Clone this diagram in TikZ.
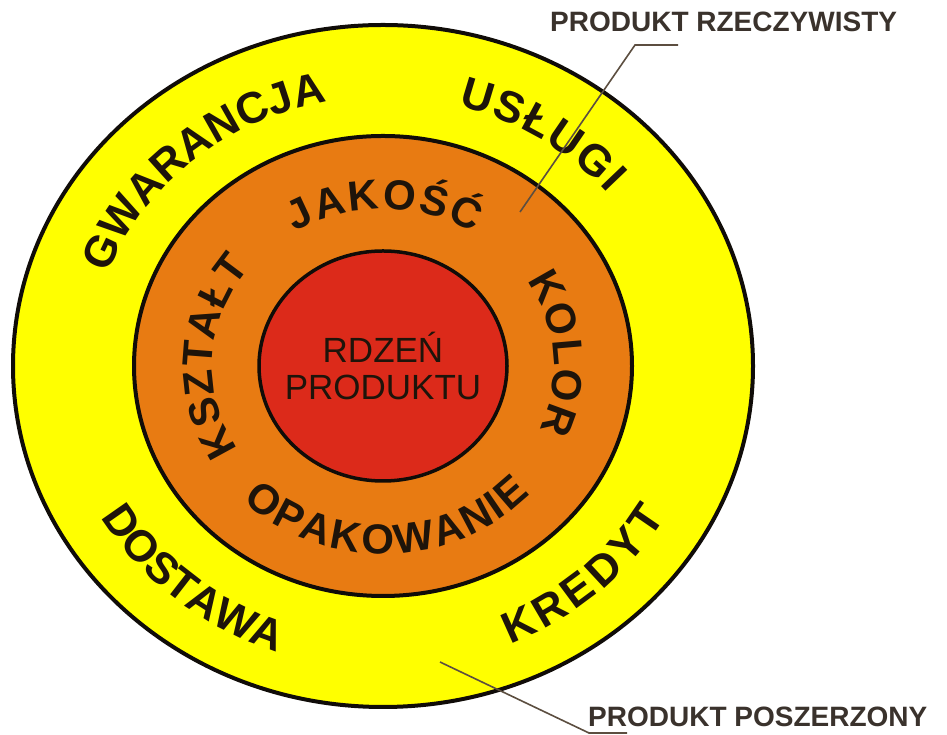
\documentclass[tikz,border=0pt]{standalone}
\usepackage{fontspec}
\setmainfont{Liberation Sans}
\usetikzlibrary{decorations.text}

\newcommand\outerringfont{\bfseries\fontsize{44}{44}\selectfont}
\newcommand\innerringfont{\bfseries\fontsize{42}{42}\selectfont}

\begin{document}
\begin{tikzpicture}[x=1pt,y=1pt,
  ring/.style={draw=ringline, line width=4},
  ringtext/.style={decorate, decoration={text along path, text align=fit to path, text color=inkdark}},
  leader/.style={draw=leadgray, line width=1.6},
  tag/.style={anchor=west, text=taggray, font=\bfseries\fontsize{28}{28}\selectfont, inner sep=0}]

\definecolor{ringyellow}{RGB}{255, 255, 0}
\definecolor{ringorange}{RGB}{232, 123, 18}
\definecolor{corered}{RGB}{220, 42, 26}
\definecolor{ringline}{RGB}{16, 12, 8}
\definecolor{inkdark}{RGB}{30, 20, 10}
\definecolor{leadgray}{RGB}{92, 78, 64}
\definecolor{taggray}{RGB}{58, 50, 44}

% Canvas
\useasboundingbox (0,0) rectangle (947,735);
\coordinate (C) at (383,369);

\begin{scope}[shift={(C)}]
% OUTER RING (produkt poszerzony)
\filldraw[ring, fill=ringyellow] (0,0) ellipse [x radius=370, y radius=341];
% MIDDLE RING (produkt rzeczywisty)
\filldraw[ring, fill=ringorange] (0,0) ellipse [x radius=249, y radius=230];
% CORE
\filldraw[ring, fill=corered, line width=3.5] (0,0) ellipse [x radius=124, y radius=115];

% Outer ring labels
\path[ringtext, decoration={text={|\outerringfont|GWARANCJA}}]
  (160:293 and 269) arc[start angle=160, end angle=101, x radius=293, y radius=269];
\path[ringtext, decoration={text={|\outerringfont|USŁUGI}}]
  (75:293 and 269) arc[start angle=75, end angle=40, x radius=293, y radius=269];
\path[ringtext, decoration={text={|\outerringfont|DOSTAWA}}]
  (210:326 and 302) arc[start angle=210, end angle=251, x radius=326, y radius=302];
\path[ringtext, decoration={text={|\outerringfont|KREDYT}}]
  (-67:326 and 302) arc[start angle=-67, end angle=-30, x radius=326, y radius=302];

% Middle ring labels
\path[ringtext, decoration={text={|\innerringfont|JAKOŚĆ}}]
  (121:171 and 157) arc[start angle=121, end angle=58, x radius=171, y radius=157];
\path[ringtext, decoration={text={|\innerringfont|KSZTAŁT}}]
  (212:171 and 157) arc[start angle=212, end angle=141, x radius=171, y radius=157];
\path[ringtext, decoration={text={|\innerringfont|KOLOR}}]
  (33:171 and 157) arc[start angle=33, end angle=-24, x radius=171, y radius=157];
\path[ringtext, decoration={text={|\innerringfont|OPAKOWANIE}}]
  (226:202 and 188) arc[start angle=226, end angle=317, x radius=202, y radius=188];
\end{scope}

% Core text
\node[align=center, text=inkdark, font=\fontsize{35}{37}\selectfont] (core) at (C) {RDZEŃ\\PRODUKTU};

% Tags and leaders
\node[tag] (rzecz) at (550,713) {PRODUKT RZECZYWISTY};
\node[tag] (poszerz) at (588,18) {PRODUKT POSZERZONY};

\coordinate (rzecz-end) at (678,690);
\coordinate (rzecz-bend) at (635,690);
\coordinate (rzecz-pt) at (520,523);
\draw[leader] (rzecz-end) -- (rzecz-bend) -- (rzecz-pt);

\coordinate (poszerz-pt) at (440,73);
\coordinate (poszerz-bend) at (589,2);
\coordinate (poszerz-end) at (627,2);
\draw[leader] (poszerz-pt) -- (poszerz-bend) -- (poszerz-end);

\end{tikzpicture}
\end{document}
